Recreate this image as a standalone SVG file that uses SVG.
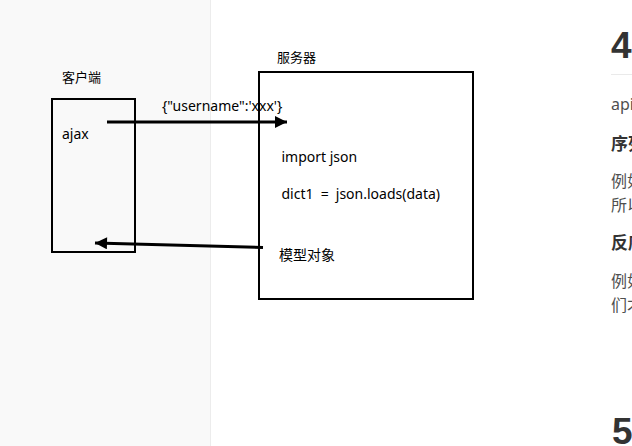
<svg xmlns="http://www.w3.org/2000/svg" width="632" height="446" viewBox="0 0 632 446">
<defs>
<marker id="ah" viewBox="0 0 10 10" refX="10" refY="5" markerWidth="5.5" markerHeight="4" markerUnits="strokeWidth" orient="auto">
<path d="M0,0 L10,5 L0,10 z" fill="#000"/>
</marker>
<style>
.t{font-family:"Noto Sans","Noto Sans CJK SC",sans-serif;fill:#000}
.cn{font-family:"Noto Sans CJK SC",sans-serif;fill:#000}
.box{fill:none;stroke:#000;stroke-width:2}
.conn{stroke:#000;stroke-width:3;fill:none;marker-end:url(#ah)}
.pg{font-family:"Noto Sans","Noto Sans CJK SC",sans-serif;fill:#4f4f4f;font-size:16px}
.pgb{font-family:"Noto Sans CJK SC",sans-serif;fill:#333;font-size:17px;font-weight:bold}
.h{font-family:"Liberation Sans",sans-serif;fill:#333;font-size:37px;font-weight:bold}
</style>
</defs>
<rect x="0" y="0" width="632" height="446" fill="#fff"/>
<rect x="0" y="0" width="210" height="446" fill="#f9f9f9"/>
<line x1="210.5" y1="0" x2="210.5" y2="446" stroke="#ececec" stroke-width="1"/>
<g id="page">
<text class="h" x="611" y="58">4</text>
<line x1="611" y1="74.5" x2="632" y2="74.5" stroke="#eaeaea" stroke-width="1"/>
<text class="pg" x="611" y="110">api</text>
<text class="pgb" x="611" y="150">序列</text>
<text class="pg" x="611" y="187">例如</text>
<text class="pg" x="611" y="211">所以</text>
<text class="pgb" x="611" y="249">反序</text>
<text class="pg" x="611" y="287">例如</text>
<text class="pg" x="611" y="311">们才</text>
<text class="h" x="612" y="444">5</text>
</g>
<g id="client">
<rect class="box" x="52" y="99" width="83" height="153"/>
<text class="cn" x="62" y="82" font-size="13">客户端</text>
<text class="t" x="62" y="139" font-size="14">ajax</text>
</g>
<g id="server">
<rect class="box" x="259" y="72" width="214" height="227"/>
<text class="cn" x="277" y="62" font-size="13">服务器</text>
<text class="t" x="281.5" y="162" font-size="14">import json</text>
<text class="t" x="281.5" y="199" font-size="14" word-spacing="3.5">dict1 = json.loads(data)</text>
<text class="cn" x="279" y="260" font-size="14">模型对象</text>
</g>
<g id="connectors">
<line class="conn" x1="107" y1="122" x2="287" y2="122"/>
<text class="t" x="162" y="111" font-size="14">{"username":'xxx'}</text>
<line class="conn" x1="263" y1="247.5" x2="95" y2="243"/>
</g>
</svg>
